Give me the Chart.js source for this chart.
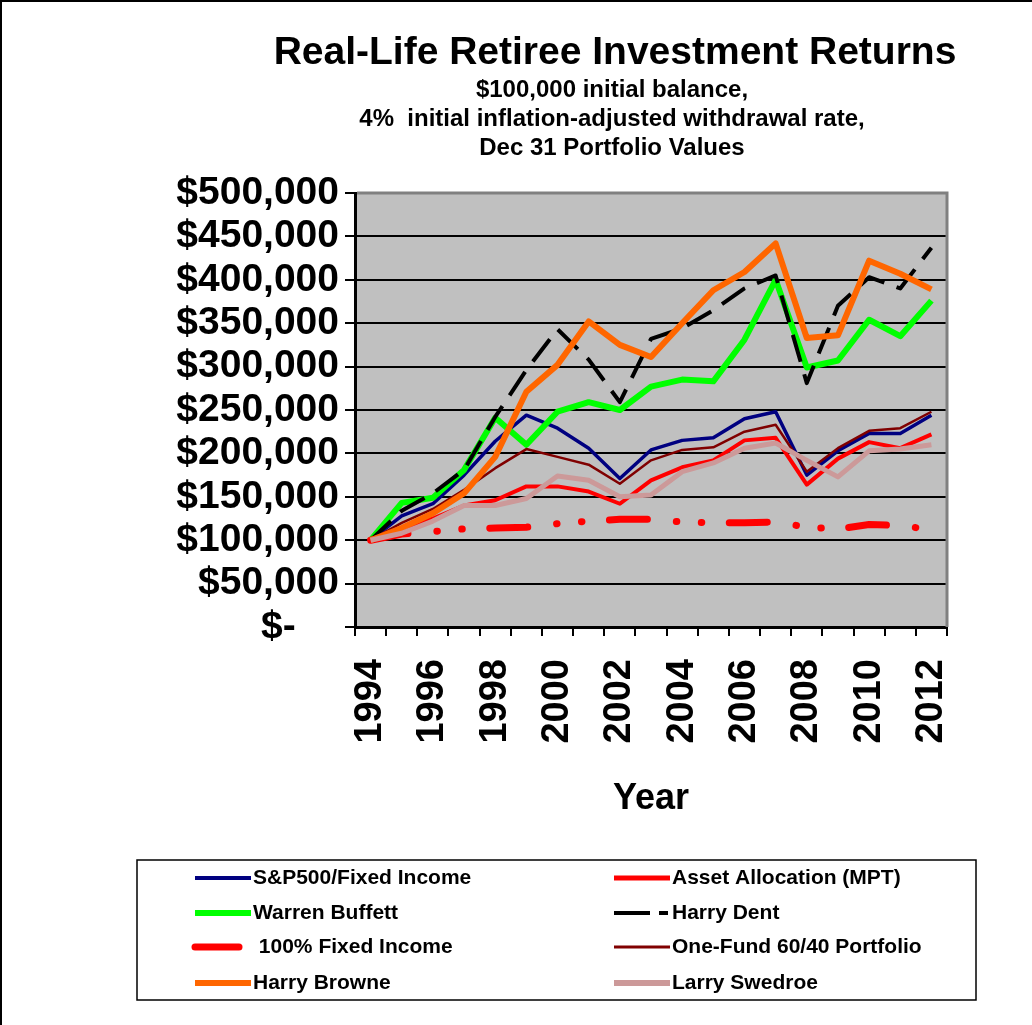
<!DOCTYPE html>
<html>
<head>
<meta charset="utf-8">
<title>Real-Life Retiree Investment Returns</title>
<script src="https://cdn.jsdelivr.net/npm/chart.js@4.4.0/dist/chart.umd.min.js"></script>
<style>
  html, body { margin: 0; padding: 0; background: #fff; }
  #caixa { width: 1032px; height: 1025px; position: relative; }
</style>
</head>
<body>
<div id="caixa"><canvas id="graficoRetorno"></canvas></div>
<script>
// valores (31 dez de cada ano)
const anos = ['1994','1995','1996','1997','1998','1999','2000','2001','2002','2003','2004','2005','2006','2007','2008','2009','2010','2011','2012']

const sp500Fixed = [100000,128000,142000,175000,214000,244000,229000,206000,171000,204000,215000,218000,240000,248000,175000,203000,223000,223000,244000]
const assetAlloc = [100000,112000,125000,140000,146000,162000,162000,156000,142000,169000,184000,192000,215000,218000,164000,194000,213000,206000,222000]
const buffett    = [100000,143000,149000,181000,241000,210000,248000,259000,250000,277000,285000,283000,331000,400000,299000,307000,354000,335000,376000]
const dent       = [100000,134000,154000,181000,242000,296000,343000,308000,259000,332000,344000,365000,390000,405000,281000,370000,403000,390000,437000]
const fixed100   = [100000,107000,110000,113000,114000,115000,119000,122000,124000,124000,121000,120000,120000,121000,115000,113000,118000,117000,112000]
const oneFund    = [100000,120000,136000,158000,183000,205000,196000,187000,165000,192000,204000,207000,225000,233000,179000,206000,226000,229000,248000]
const browne     = [100000,114000,131000,154000,196000,271000,302000,352000,325000,311000,350000,388000,409000,442000,333000,336000,422000,407000,389000]
const swedroe    = [100000,108000,122000,140000,140000,148000,174000,169000,150000,152000,179000,189000,206000,212000,192000,173000,203000,205000,210000]

const titulo = 'Real-Life Retiree Investment Returns'
const subtitulo = ['$100,000 initial balance,', '4%  initial inflation-adjusted withdrawal rate,', 'Dec 31 Portfolio Values']

Chart.defaults.font.family = '"Liberation Sans", Arial, sans-serif'
Chart.defaults.color = '#000'

const fonte = 'Liberation Sans'

// fundo cinza da area do grafico + borda da pagina
const fundo = {
  id: 'fundo',
  beforeDraw(chart) {
    const {ctx, chartArea: a, width, height} = chart
    ctx.save()
    ctx.fillStyle = '#fff'
    ctx.fillRect(0, 0, width, height)
    ctx.fillStyle = '#C0C0C0'
    ctx.fillRect(a.left, a.top, a.right - a.left, a.bottom - a.top)
    ctx.strokeStyle = '#000'
    ctx.lineWidth = 2
    ctx.beginPath()
    ctx.moveTo(1, height)
    ctx.lineTo(1, 1)
    ctx.lineTo(width, 1)
    ctx.stroke()
    ctx.restore()
  },
  afterDraw(chart) {
    const {ctx, chartArea: a} = chart
    ctx.save()
    ctx.strokeStyle = '#808080'
    ctx.lineWidth = 3
    ctx.beginPath()
    ctx.moveTo(a.left + 2, a.top)
    ctx.lineTo(a.right, a.top)
    ctx.lineTo(a.right, a.bottom)
    ctx.stroke()
    ctx.restore()
  }
}

// titulos
const titulos = {
  id: 'titulos',
  afterDraw(chart) {
    const ctx = chart.ctx
    ctx.save()
    ctx.fillStyle = '#000'
    ctx.textAlign = 'center'
    ctx.textBaseline = 'middle'
    ctx.font = 'bold 39px "' + fonte + '"'
    ctx.fillText(titulo, 615, 53)
    ctx.font = 'bold 24px "' + fonte + '"'
    subtitulo.forEach((t, i) => ctx.fillText(t, 612, 90 + i * 29))
    ctx.restore()
  }
}

// legenda em duas colunas dentro de uma caixa
const legenda = {
  id: 'legenda',
  afterDraw(chart) {
    const ctx = chart.ctx
    const cx = [195, 614]
    const cy = [878, 913, 947, 983]
    ctx.save()
    ctx.strokeStyle = '#000'
    ctx.lineWidth = 1.5
    ctx.strokeRect(137, 860, 839, 140)
    ctx.font = 'bold 21px "' + fonte + '"'
    ctx.textBaseline = 'middle'
    ctx.textAlign = 'left'
    chart.data.datasets.forEach((ds, i) => {
      const x = cx[i % 2]
      const y = cy[Math.floor(i / 2)]
      ctx.strokeStyle = ds.borderColor
      ctx.lineWidth = ds.legendaLargura || ds.borderWidth
      ctx.lineCap = ds.borderCapStyle || 'butt'
      ctx.setLineDash(ds.legendaDash || [])
      ctx.beginPath()
      ctx.moveTo(x, y)
      ctx.lineTo(x + 56, y)
      ctx.stroke()
      ctx.setLineDash([])
      ctx.fillStyle = '#000'
      ctx.fillText(ds.label, x + 58, y)
    })
    ctx.restore()
  }
}

const ctx = document.getElementById('graficoRetorno').getContext('2d')
const series = [
  {label: 'S&P500/Fixed Income', data: sp500Fixed, borderColor: '#000080', borderWidth: 3.5, legendaLargura: 4},
  {label: 'Asset Allocation (MPT)', data: assetAlloc, borderColor: '#FF0000', borderWidth: 4, legendaLargura: 5},
  {label: 'Warren Buffett', data: buffett, borderColor: '#00FF00', borderWidth: 6},
  {label: 'Harry Dent', data: dent, borderColor: '#000000', borderWidth: 4, borderDash: [28, 13], legendaDash: [36, 9, 9, 20]},
  {label: ' 100% Fixed Income', data: fixed100, borderColor: '#FF0000', borderWidth: 7, borderCapStyle: 'round', borderDash: [38, 29, 0.5, 24.5, 0.5, 27.5], legendaDash: [44, 40]},
  {label: 'One-Fund 60/40 Portfolio', data: oneFund, borderColor: '#800000', borderWidth: 2.5, legendaLargura: 3},
  {label: 'Harry Browne', data: browne, borderColor: '#FF6600', borderWidth: 6},
  {label: 'Larry Swedroe', data: swedroe, borderColor: '#CC9999', borderWidth: 5, legendaLargura: 6}
]
series.forEach((s, i) => {
  s.backgroundColor = s.borderColor
  s.pointRadius = 0
  s.tension = 0
  s.fill = false
  s.borderJoinStyle = 'round'
  s.order = series.length - i
})

const graph = new Chart(ctx, {
  type: 'line',
  data: {
    labels: anos,
    datasets: series
  },
  options: {
    responsive: true,
    maintainAspectRatio: false,
    animation: false,
    layout: {
      padding: {top: 193, left: 0, right: 85, bottom: 198}
    },
    plugins: {
      legend: {display: false},
      title: {display: false},
      tooltip: {enabled: false}
    },
    scales: {
      x: {
        offset: true,
        ticks: {
          autoSkip: false,
          maxRotation: 90,
          minRotation: 90,
          padding: 23,
          color: '#000',
          font: {size: 38, weight: 'bold'},
          callback: function(val, i) { return i % 2 === 0 ? this.getLabelForValue(val) : '' }
        },
        grid: {offset: true, drawOnChartArea: false, color: '#000', lineWidth: 2, tickLength: 9},
        border: {color: '#000', width: 3},
        title: {display: true, text: 'Year', color: '#000', font: {size: 36, weight: 'bold'}, padding: {top: 0, bottom: 6}},
        afterFit: s => { s.height = 200 }
      },
      y: {
        min: 0,
        max: 500000,
        ticks: {
          stepSize: 50000,
          autoSkip: false,
          padding: 6,
          color: '#000',
          font: {size: 39, weight: 'bold'},
          callback: v => v === 0 ? '$-    ' : '$' + v.toLocaleString('en-US')
        },
        grid: {color: '#000', lineWidth: 2, tickLength: 10},
        border: {color: '#000', width: 3},
        afterFit: s => { s.width = 355 }
      }
    }
  },
  plugins: [fundo, titulos, legenda]
})
</script>
</body>
</html>
